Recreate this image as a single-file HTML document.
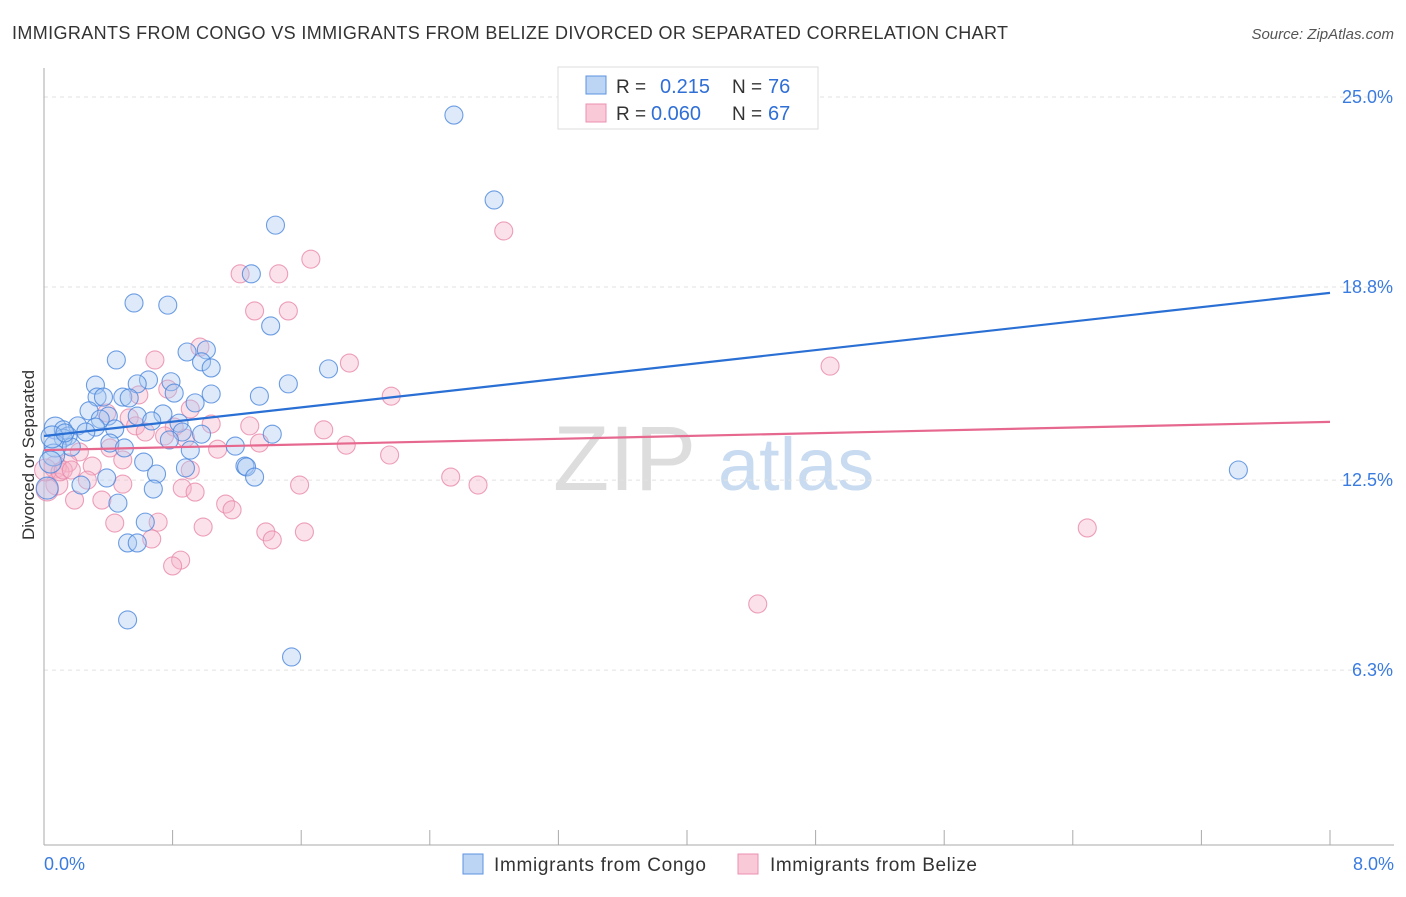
<!DOCTYPE html>
<html><head><meta charset="utf-8"><style>
body{margin:0;background:#fff;font-family:"Liberation Sans",sans-serif}
svg text{font-family:"Liberation Sans",sans-serif}
</style></head><body>
<svg id="chart" width="1406" height="892" xmlns="http://www.w3.org/2000/svg">
<text x="12" y="39" font-size="18" fill="#333" textLength="996" lengthAdjust="spacing">IMMIGRANTS FROM CONGO VS IMMIGRANTS FROM BELIZE DIVORCED OR SEPARATED CORRELATION CHART</text>
<text x="1394" y="39" font-size="15" fill="#555" text-anchor="end" font-style="italic">Source: ZipAtlas.com</text>
<g><text x="553" y="490" font-size="92" fill="#ddd" font-family="Liberation Serif">ZIP</text><text x="718" y="490" font-size="74" fill="#c9dbf0">atlas</text></g>
<g id="grid"></g>
<g id="axes"></g>
<g id="pts"></g>
<g id="trend"></g>
<text transform="translate(34,455) rotate(-90)" font-size="17" fill="#333" text-anchor="middle">Divorced or Separated</text>
<g>
<rect x="558" y="67" width="260" height="62" fill="#fff" stroke="#ddd"/>
<rect x="586" y="76" width="20" height="18" fill="#bcd5f5" stroke="#5b93e0"/>
<rect x="586" y="104" width="20" height="18" fill="#f9c9d8" stroke="#ec8fb0"/>
<text x="616" y="93" font-size="19" fill="#333">R = </text><text x="660" y="93" font-size="20" fill="#2f6fd6">0.215</text>
<text x="732" y="93" font-size="19" fill="#333">N = </text><text x="768" y="93" font-size="20" fill="#2f6fd6">76</text>
<text x="616" y="120" font-size="19" fill="#333">R = </text><text x="651" y="120" font-size="20" fill="#2f6fd6">0.060</text>
<text x="732" y="120" font-size="19" fill="#333">N = </text><text x="768" y="120" font-size="20" fill="#2f6fd6">67</text>
</g>
<g>
<rect x="463" y="854" width="20" height="20" fill="#bcd5f5" stroke="#5b93e0"/>
<text x="494" y="871" font-size="19" fill="#333" textLength="212">Immigrants from Congo</text>
<rect x="738" y="854" width="20" height="20" fill="#f9c9d8" stroke="#ec8fb0"/>
<text x="770" y="871" font-size="19" fill="#333" textLength="207">Immigrants from Belize</text>
</g>
</svg>
<script>
const yTicks=[25.0,18.8,12.5,6.3];
const yTickLabels=["25.0%","18.8%","12.5%","6.3%"];
const xTickCount=[0,0.8,1.6,2.4,3.2,4.0,4.8,5.6,6.4,7.2,8.0];
const xEndLabels=["0.0%","8.0%"];
const congoX=[2.55,2.80,1.44,1.29,0.56,0.77,1.41,0.89,1.01,0.45,0.98,1.04,1.77,0.65,0.79,0.32,1.52,0.58,0.81,1.04,1.34,0.49,0.33,0.37,0.53,0.94,0.28,0.74,0.40,0.58,0.67,0.84,0.35,0.07,0.12,0.21,0.32,0.44,0.86,1.42,0.98,0.26,0.15,0.12,0.78,1.19,0.41,0.50,0.07,0.17,0.91,0.06,0.62,1.25,1.26,0.88,0.70,1.31,0.39,0.23,0.68,0.46,0.63,0.52,0.58,0.52,1.54,7.43,0.05,0.04,0.02,0.13];
const congoY=[24.41,21.64,20.82,19.23,18.28,18.21,17.53,16.68,16.75,16.42,16.36,16.16,16.13,15.77,15.71,15.60,15.64,15.64,15.34,15.31,15.24,15.21,15.21,15.21,15.18,15.02,14.76,14.66,14.59,14.59,14.43,14.36,14.49,14.20,14.14,14.27,14.23,14.17,14.07,14.00,14.00,14.07,13.94,13.87,13.81,13.61,13.71,13.55,13.61,13.58,13.48,13.32,13.09,12.96,12.93,12.90,12.70,12.60,12.57,12.34,12.21,11.75,11.13,10.45,10.45,7.94,6.73,12.83,13.91,13.09,12.24,14.04];
const belizeX=[2.86,1.66,1.22,1.46,1.31,1.52,0.97,0.69,1.90,4.89,0.77,0.59,2.16,0.91,0.39,0.53,1.04,0.57,0.81,1.74,0.63,1.28,0.75,0.88,1.34,1.88,1.08,0.41,0.22,2.15,0.49,0.15,0.07,0.30,0.91,2.53,2.70,0.27,0.49,0.08,1.59,0.86,0.94,0.19,0.36,1.13,1.17,0.44,0.71,0.99,1.38,1.62,1.42,0.67,0.85,0.80,6.49,4.44,0.02,0.01,0.10,0.12,0.17];
const belizeY=[20.63,19.71,19.23,19.23,18.02,18.02,16.84,16.42,16.32,16.22,15.47,15.28,15.24,14.82,14.69,14.53,14.33,14.27,14.23,14.14,14.07,14.27,13.94,13.87,13.71,13.64,13.51,13.55,13.42,13.32,13.16,13.06,12.93,12.96,12.83,12.60,12.34,12.50,12.37,12.37,12.34,12.24,12.11,11.85,11.85,11.72,11.53,11.10,11.13,10.97,10.81,10.81,10.55,10.58,9.89,9.70,10.94,8.46,12.18,12.83,12.77,12.83,12.83];
const trendStart=[13.94,13.48];
const trendEnd=[18.61,14.40];
const NS="http://www.w3.org/2000/svg";
const sx=v=>44+v*160.75, sy=v=>97+(25-v)*30.65;
function mk(t,a,p){const e=document.createElementNS(NS,t);for(const k in a)e.setAttribute(k,a[k]);p.appendChild(e);return e;}
const grid=document.getElementById('grid'),axes=document.getElementById('axes'),pts=document.getElementById('pts'),tr=document.getElementById('trend');
yTicks.forEach((v,i)=>{const l=mk('line',{x1:44,x2:1394,y1:sy(v),y2:sy(v),stroke:'#e2e2e2','stroke-dasharray':'4,4'},grid);

const t=mk('text',{x:1393,y:sy(v)+6,'font-size':18,fill:'#3a7be0','text-anchor':'end'},axes);t.textContent=yTickLabels[i];
});
const ax=mk('line',{x1:44,x2:44,y1:68,y2:845,stroke:'#aaa'},axes);
const bx=mk('line',{x1:44,x2:1394,y1:845,y2:845,stroke:'#aaa'},axes);
xTickCount.forEach(v=>{const l=mk('line',{x1:sx(v),x2:sx(v),y1:830,y2:845,stroke:'#aaa'},axes);});
[[0,'start'],[8,'end']].forEach((p,i)=>{const t=mk('text',{x:sx(p[0])+(i?64:0),y:870,'font-size':18,fill:'#3a7be0','text-anchor':i?'end':'start'},axes);t.textContent=xEndLabels[i];
});
function draw(X,Y,f,s,n){X.forEach((x,i)=>{const r=x<0.1?11:9;const c=mk('circle',{cx:sx(x),cy:sy(Y[i]),r:r,fill:f,'fill-opacity':0.38,stroke:s,'stroke-opacity':0.8,'stroke-width':1.1},pts);
});}
draw(belizeX,belizeY,'#f5b3c8','#e888aa','belize-point');
draw(congoX,congoY,'#a9c9f2','#4a86dc','congo-point');
const cols=['#2a6fd4','#e6688f'],names=['congo-trend-line','belize-trend-line'];
trendStart.forEach((v,i)=>{const l=mk('line',{x1:sx(0),y1:sy(v),x2:sx(8),y2:sy(trendEnd[i]),stroke:cols[i],'stroke-width':2.2},tr);
});
</script>
</body></html>
